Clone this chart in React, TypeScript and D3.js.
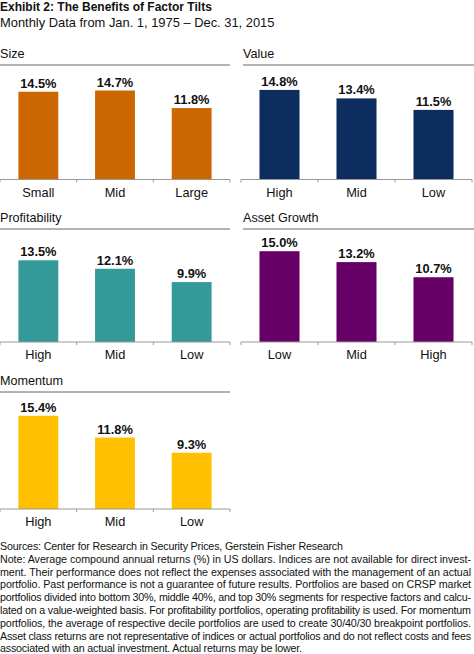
import React from "react";
import * as d3 from "d3";

const title = "Exhibit 2: The Benefits of Factor Tilts";
const subtitle = "Monthly Data from Jan. 1, 1975 \u2013 Dec. 31, 2015";

const panelNames = ["Size", "Value", "Profitability", "Asset Growth", "Momentum"];
const sizeCats = ["Small", "Mid", "Large"];
const sizeVals = [14.5, 14.7, 11.8];
const valueCats = ["High", "Mid", "Low"];
const valueVals = [14.8, 13.4, 11.5];
const profCats = ["High", "Mid", "Low"];
const profVals = [13.5, 12.1, 9.9];
const growthCats = ["Low", "Mid", "High"];
const growthVals = [15.0, 13.2, 10.7];
const momCats = ["High", "Mid", "Low"];
const momVals = [15.4, 11.8, 9.3];

const footerLines = [
  "Sources: Center for Research in Security Prices, Gerstein Fisher Research",
  "Note: Average compound annual returns (%) in US dollars. Indices are not available for direct invest-",
  "ment. Their performance does not reflect the expenses associated with the management of an actual",
  "portfolio. Past performance is not a guarantee of future results. Portfolios are based on CRSP market",
  "portfolios divided into bottom 30%, middle 40%, and top 30% segments for respective factors and calcu-",
  "lated on a value-weighted basis. For profitability portfolios, operating profitability is used. For momentum",
  "portfolios, the average of respective decile portfolios are used to create 30/40/30 breakpoint portfolios.",
  "Asset class returns are not representative of indices or actual portfolios and do not reflect costs and fees",
  "associated with an actual investment. Actual returns may be lower.",
];
const footerWidths = [343, 471, 471, 471, 471, 471, 471, 471, 302];

const FONT = "'Liberation Sans', Arial, Helvetica, sans-serif";

type PanelSpec = {
  name: string;
  cats: string[];
  vals: number[];
  color: string;
  x0: number;
  x1: number;
  lineX0: number;
  lineX1: number;
  top: number;
  base: number;
};

function Panel({ p }: { p: PanelSpec }) {
  const x = d3
    .scaleBand<string>()
    .domain(p.cats)
    .range([p.x0, p.x1])
    .paddingInner(0.48)
    .paddingOuter(0.24);
  const y = d3.scaleLinear().domain([0, 19]).range([p.base, p.base - 115]);
  const step = x.step();
  const tickXs = d3.range(p.cats.length + 1).map((i) => p.x0 + i * step);
  return (
    <g>
      <text x={p.lineX0} y={p.top - 7.5} fontSize={12.6} fill="#111" fontFamily={FONT}>
        {p.name}
      </text>
      <line x1={p.lineX0} x2={p.lineX1} y1={p.top} y2={p.top} stroke="#9a9a9a" strokeWidth={1.3} />
      {p.cats.map((c, i) => (
        <g key={c}>
          <rect
            x={x(c)!}
            y={y(p.vals[i])}
            width={x.bandwidth()}
            height={y(0) - y(p.vals[i])}
            fill={p.color}
          />
          <text
            x={x(c)! + x.bandwidth() / 2}
            y={y(p.vals[i]) - 4}
            textAnchor="middle"
            fontSize={12.8}
            fontWeight="bold"
            fill="#111"
            fontFamily={FONT}
          >
            {p.vals[i].toFixed(1) + "%"}
          </text>
          <text
            x={x(c)! + x.bandwidth() / 2}
            y={p.base + 17}
            textAnchor="middle"
            fontSize={12.8}
            fill="#111"
            fontFamily={FONT}
          >
            {c}
          </text>
        </g>
      ))}
      <line x1={p.x0} x2={p.x1} y1={p.base} y2={p.base} stroke="#999" strokeWidth={1} />
      {tickXs.map((tx, i) => (
        <line key={i} x1={tx} x2={tx} y1={p.base} y2={p.base + 3} stroke="#999" strokeWidth={1} />
      ))}
    </g>
  );
}

export default function App() {
  const W = 474;
  const H = 654;
  const rows = [
    { top: 65, base: 179.5 },
    { top: 229, base: 342 },
    { top: 392, base: 509 },
  ];
  const L = { x0: 0, x1: 230, lineX0: 0, lineX1: 230 };
  const R = { x0: 241, x1: 472, lineX0: 243, lineX1: 474 };
  const panels: PanelSpec[] = [
    { name: panelNames[0], cats: sizeCats, vals: sizeVals, color: "#CC6600", ...L, ...rows[0] },
    { name: panelNames[1], cats: valueCats, vals: valueVals, color: "#0D2D5E", ...R, ...rows[0] },
    { name: panelNames[2], cats: profCats, vals: profVals, color: "#339999", ...L, ...rows[1] },
    { name: panelNames[3], cats: growthCats, vals: growthVals, color: "#660066", ...R, ...rows[1] },
    { name: panelNames[4], cats: momCats, vals: momVals, color: "#FFC000", ...L, ...rows[2] },
  ];
  return (
    <div style={{ position: "absolute", left: 0, top: 0, width: W, height: H, background: "#fff" }}>
      <svg width={W} height={H} style={{ display: "block" }}>
        <rect width={W} height={H} fill="#fff" />
        <text x={0} y={11} fontSize={12} fontWeight="bold" fill="#111" fontFamily={FONT}>
          {title}
        </text>
        <text x={0} y={27} fontSize={12.9} fill="#111" fontFamily={FONT}>
          {subtitle}
        </text>
        {panels.map((p) => (
          <Panel key={p.name} p={p} />
        ))}
        {footerLines.map((t, i) => (
          <text
            key={i}
            x={0}
            y={550 + i * 12.8}
            fontSize={10.7}
            fill="#111"
            fontFamily={FONT}
            textLength={footerWidths[i]}
            lengthAdjust="spacing"
          >
            {t}
          </text>
        ))}
      </svg>
    </div>
  );
}
